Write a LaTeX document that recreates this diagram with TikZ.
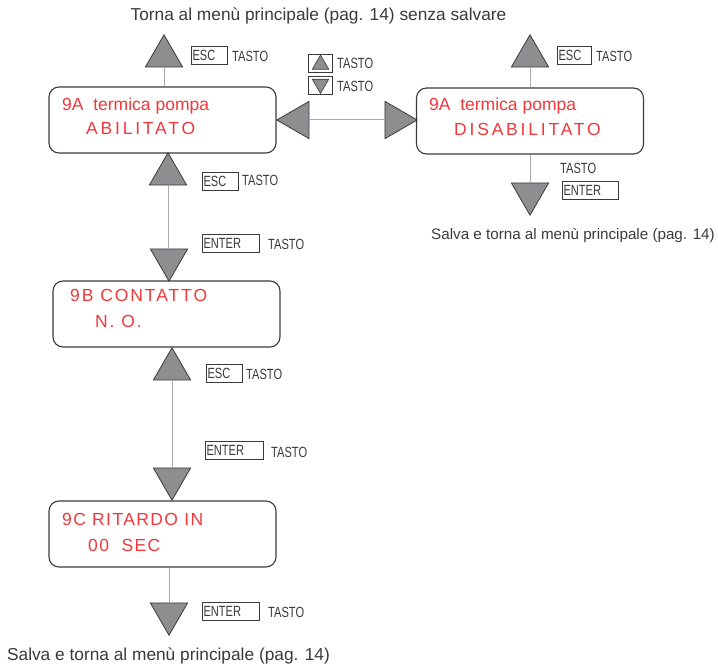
\documentclass[tikz,border=0pt]{standalone}
\usepackage{fontspec}
\setmainfont{Liberation Sans}
\newfontfamily\keyfont[FakeStretch=0.75]{Liberation Sans}
\newfontfamily\lcdwide[LetterSpace=16]{Liberation Sans}
\newfontfamily\lcdmid[LetterSpace=11]{Liberation Sans}
\newfontfamily\lcdnarrow[LetterSpace=8]{Liberation Sans}
\usetikzlibrary{shapes.geometric}
\definecolor{ink}{HTML}{3A3A3A}
\definecolor{lcdred}{HTML}{F0373C}
\definecolor{trifill}{HTML}{8E8E91}
\definecolor{linkgray}{HTML}{AAAAAA}
\begin{document}
\begin{tikzpicture}[x=1pt,y=-1pt,
  screen/.style={draw=ink,line width=1.1pt,rounded corners=10pt,minimum width=227pt,minimum height=66pt},
  lcd/.style={text=lcdred,font=\fontsize{17.5}{17.5}\selectfont,anchor=base west,inner sep=0pt},
  tri/.style={regular polygon,regular polygon sides=3,draw=ink,fill=trifill,line width=0.8pt,minimum size=43pt,inner sep=0pt},
  minitri/.style={regular polygon,regular polygon sides=3,draw=ink,fill=trifill,line width=0.6pt,minimum size=19pt,inner sep=0pt},
  keybox/.style={draw=ink,line width=0.8pt,minimum height=18pt,inner xsep=1.5pt,inner ysep=0pt,align=left,text=ink,font=\fontsize{14.8}{14.8}\keyfont},
  tasto/.style={text=ink,font=\fontsize{14.8}{14.8}\keyfont,inner sep=0pt},
  note/.style={text=ink,font=\fontsize{17.3}{17.3}\selectfont,inner sep=0pt,anchor=base},
  link/.style={draw=linkgray,line width=1pt}]
\useasboundingbox (0,0) rectangle (718,668);

% screens
\node[screen] (A) at (162.5,120) {};
\node[screen] (D) at (530,121) {};
\node[screen] (B) at (166.5,314) {};
\node[screen] (C) at (162.5,534) {};

\node[lcd] at (62,111) {9A\ \ termica pompa};
\node[lcd,font=\fontsize{17.5}{17.5}\lcdwide] at (86,135) {ABILITATO};
\node[lcd] at (429,111) {9A\ \ termica pompa};
\node[lcd,font=\fontsize{17.5}{17.5}\lcdwide] at (454,136) {DISABILITATO};
\node[lcd,font=\fontsize{17.5}{17.5}\lcdmid] at (70,302) {9B CONTATTO};
\node[lcd,font=\fontsize{17.5}{17.5}\lcdmid] at (95,328) {N. O.};
\node[lcd,font=\fontsize{17.5}{17.5}\lcdnarrow] at (62,525) {9C RITARDO\ IN};
\node[lcd,font=\fontsize{17.5}{17.5}\lcdnarrow] at (88,551) {00\ \ SEC};

% triangles
\node[tri] (escA) at (164,56.3) {};
\node[tri] (escD) at (530,56.3) {};
\node[tri,shape border rotate=90] (left) at (298.3,120) {};
\node[tri,shape border rotate=-90] (right) at (395.7,120) {};
\node[tri,shape border rotate=180] (enterD) at (530,193.7) {};
\node[tri] (escB) at (168,174.3) {};
\node[tri,shape border rotate=180] (enterB) at (169,259.7) {};
\node[tri] (escC) at (172,369.3) {};
\node[tri,shape border rotate=180] (enterC) at (172,478.7) {};
\node[tri,shape border rotate=180] (enterE) at (169,613.7) {};

% connectors
\draw[link] (escA.south) -- (escA.south |- A.north);
\draw[link] (escD.south) -- (escD.south |- D.north);
\draw[link] (left.east) -- (right.west);
\draw[link] (enterD.north |- D.south) -- (enterD.north);
\draw[link] (escB.south) -- (escB.south |- enterB.north);
\draw[link] (escC.south) -- (escC.south |- enterC.north);
\draw[link] (enterE.north |- C.south) -- (enterE.north);

% keys
\node[keybox,text width=33pt] (kA) at (209,55) {ESC};
\node[tasto,anchor=west] at (232,56) {TASTO};
\node[keybox,text width=31pt] (kD) at (574,55) {ESC};
\node[tasto,anchor=west] at (596,56) {TASTO};
\node[keybox,minimum width=24pt] (kup) at (320.5,63) {};
\node[minitri] at (320.5,64.5) {};
\node[tasto,anchor=west] at (337,63) {TASTO};
\node[keybox,minimum width=24pt] (kdown) at (320.5,85.5) {};
\node[minitri,shape border rotate=180] at (320.5,84) {};
\node[tasto,anchor=west] at (337,86) {TASTO};
\node[tasto,anchor=west] at (560,168) {TASTO};
\node[keybox,text width=53pt] (kD2) at (590,190) {ENTER};
\node[keybox,text width=33pt] (kB1) at (220,181) {ESC};
\node[tasto,anchor=west] at (242,180) {TASTO};
\node[keybox,text width=54pt] (kB2) at (230.5,243.5) {ENTER};
\node[tasto,anchor=west] at (268,244) {TASTO};
\node[keybox,text width=33pt] (kC1) at (224,373) {ESC};
\node[tasto,anchor=west] at (246,374) {TASTO};
\node[keybox,text width=55pt] (kC2) at (234,450.5) {ENTER};
\node[tasto,anchor=west] at (271,452) {TASTO};
\node[keybox,text width=54pt] (kE) at (230.5,611.5) {ENTER};
\node[tasto,anchor=west] at (268,612) {TASTO};

% notes
\node[note] at (318.5,21) {Torna al menù principale (pag. 14) senza salvare};
\node[note,font=\fontsize{15.2}{15.2}\selectfont] at (573,240) {Salva e torna al menù principale (pag. 14)};
\node[note] at (168.5,660) {Salva e torna al menù principale (pag. 14)};
\end{tikzpicture}
\end{document}
